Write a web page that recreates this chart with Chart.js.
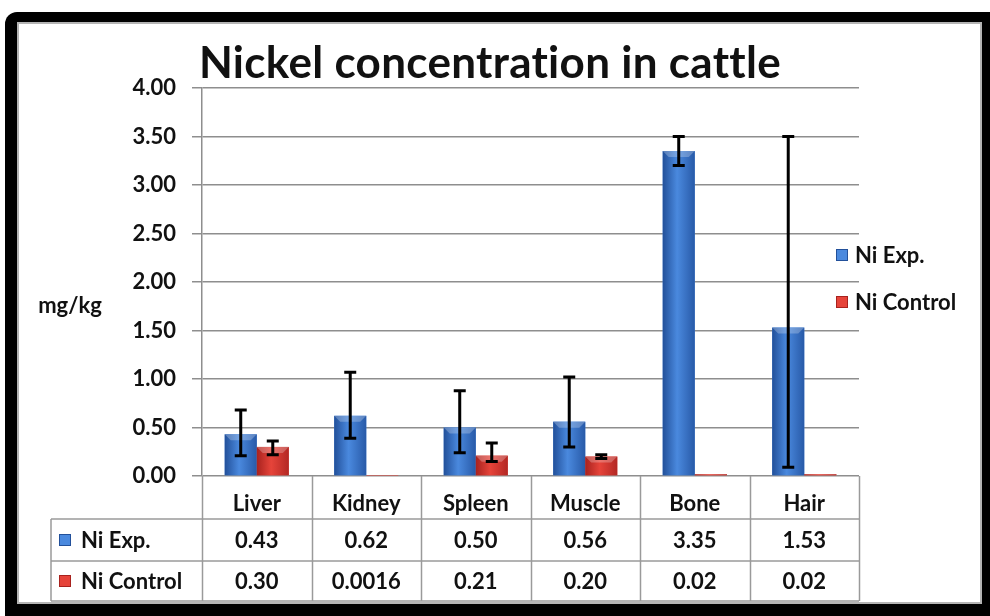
<!DOCTYPE html>
<html>
<head>
<meta charset="utf-8">
<script src="https://cdn.jsdelivr.net/npm/chart.js@4"></script>
<style>
    body { margin: 0; background: #fff; }
    .frame { position: absolute; left: 5px; top: 12px; width: 985px; height: 604px; background: #000; border-radius: 12px 0 0 0; }
    .inner { position: absolute; left: 17px; top: 22px; width: 961px; height: 578px; background: #fff; border: 2px solid #b4b4b4; }
    #wrap { position: absolute; left: 0; top: 0; width: 990px; height: 616px; }
</style>
</head>
<body>
<div class="frame"></div>
<div class="inner"></div>
<div id="wrap"><canvas id="nickel"></canvas></div>
<script>
// data
const categories = ['Liver', 'Kidney', 'Spleen', 'Muscle', 'Bone', 'Hair'];
const seriesNames = ['Ni Exp.', 'Ni Control'];
const niExp = [0.43, 0.62, 0.50, 0.56, 3.35, 1.53];
const niControl = [0.30, 0.0016, 0.21, 0.20, 0.02, 0.02];
const expErrUp = [0.25, 0.45, 0.38, 0.46, 0.15, 1.97];
const expErrDown = [0.22, 0.23, 0.26, 0.26, 0.15, 1.44];
const ctlErrUp = [0.06, 0, 0.13, 0.02, 0, 0];
const ctlErrDown = [0.08, 0, 0.06, 0.02, 0, 0];
const yMin = 0, yMax = 4, yStep = 0.5;

const FONT = 'Lato, "DejaVu Sans", sans-serif';
const gridColor = '#8e8e8e';
const tableColor = '#9a9a9a';
// gradient stops: edge, centre, edge
const shades = [
    ['#22509a', '#4a89de', '#285aa8'],
    ['#a8221e', '#e6443a', '#b32824']
];

function fmt(v) {
    return v < 0.01 ? String(v) : v.toFixed(2);
}

// bars with shading + error bars
const barLook = {
    id: 'barLook',
    afterDatasetsDraw(chart) {
        const c = chart.ctx;
        const y = chart.scales.y;
        const errs = [[expErrUp, expErrDown], [ctlErrUp, ctlErrDown]];
        chart.data.datasets.forEach((ds, di) => {
            const meta = chart.getDatasetMeta(di);
            meta.data.forEach((el, i) => {
                const l = el.x - el.width / 2, r = el.x + el.width / 2;
                const h = el.base - el.y;
                if (h < 0.5) {
                    return;
                }
                const g = c.createLinearGradient(l, 0, r, 0);
                g.addColorStop(0, shades[di][0]);
                g.addColorStop(0.45, shades[di][1]);
                g.addColorStop(1, shades[di][2]);
                c.save();
                c.fillStyle = g;
                c.fillRect(l, el.y, el.width, h);
                // small top bevel
                const b = Math.min(6, h / 2);
                c.fillStyle = 'rgba(255,255,255,0.25)';
                c.beginPath();
                c.moveTo(l, el.y);
                c.lineTo(r, el.y);
                c.lineTo(r - b, el.y + b);
                c.lineTo(l + b, el.y + b);
                c.closePath();
                c.fill();
                c.restore();
            });
        });
        // error bars
        chart.data.datasets.forEach((ds, di) => {
            const meta = chart.getDatasetMeta(di);
            meta.data.forEach((el, i) => {
                const up = errs[di][0][i], dn = errs[di][1][i];
                if (!up && !dn) {
                    return;
                }
                const v = ds.data[i];
                const yt = y.getPixelForValue(v + up);
                const yb = y.getPixelForValue(v - dn);
                c.save();
                c.strokeStyle = '#000';
                c.lineWidth = 3;
                c.beginPath();
                c.moveTo(el.x, yt);
                c.lineTo(el.x, yb);
                c.moveTo(el.x - 6, yt);
                c.lineTo(el.x + 6, yt);
                c.moveTo(el.x - 6, yb);
                c.lineTo(el.x + 6, yb);
                c.stroke();
                c.restore();
            });
        });
    }
};

// title, y label, legend and data table
const extras = {
    id: 'extras',
    afterDraw(chart) {
        const c = chart.ctx;
        const area = chart.chartArea;
        const x = chart.scales.x;
        c.save();
        c.fillStyle = '#111';
        // title (no ti ligature)
        c.textRendering = 'optimizeSpeed';
        c.letterSpacing = '0.3px';
        c.font = '700 44px ' + FONT;
        c.textAlign = 'center';
        c.textBaseline = 'alphabetic';
        c.fillText('Nickel concentration in cattle', 490, 78);
        c.letterSpacing = '0px';
        // y axis label
        c.font = '700 22px ' + FONT;
        c.textBaseline = 'middle';
        c.fillText('mg/kg', 70, 306);

        // legend
        c.textAlign = 'left';
        const legY = [255, 302];
        seriesNames.forEach((name, di) => {
            c.fillStyle = shades[di][1];
            c.fillRect(836, legY[di] - 6, 12, 12);
            c.strokeStyle = shades[di][0];
            c.lineWidth = 1;
            c.strokeRect(836.5, legY[di] - 5.5, 11, 11);
            c.fillStyle = '#111';
            c.fillText(name, 855, legY[di] + 1);
        });

        // table grid
        const catW = x.getPixelForValue(1) - x.getPixelForValue(0);
        const rowTop = area.bottom;
        const rows = [519, 561, 601];
        const left = 51;
        c.strokeStyle = tableColor;
        c.lineWidth = 1.5;
        c.beginPath();
        for (let i = 0; i <= categories.length; i++) {
            const bx = Math.round(area.left + i * catW) + 0.5;
            c.moveTo(bx, rowTop);
            c.lineTo(bx, rows[2]);
        }
        rows.forEach(ry => {
            c.moveTo(left, ry);
            c.lineTo(area.right, ry);
        });
        c.moveTo(left, rows[0]);
        c.lineTo(left, rows[2]);
        c.stroke();

        // row headers and values
        const rowMid = [540, 581];
        const vals = [niExp, niControl];
        seriesNames.forEach((name, di) => {
            c.fillStyle = shades[di][1];
            c.fillRect(59, rowMid[di] - 6, 12, 12);
            c.strokeStyle = shades[di][0];
            c.lineWidth = 1;
            c.strokeRect(59.5, rowMid[di] - 5.5, 11, 11);
            c.fillStyle = '#111';
            c.textAlign = 'left';
            c.font = '700 22px ' + FONT;
            c.fillText(name, 81, rowMid[di] + 1);
            c.textAlign = 'center';
            vals[di].forEach((v, i) => {
                c.fillText(fmt(v), x.getPixelForValue(i), rowMid[di] + 1);
            });
        });
        c.restore();
    }
};

const ctx = document.getElementById('nickel');
new Chart(ctx, {
    type: 'bar',
    data: {
        labels: categories,
        datasets: [
            {label: seriesNames[0], data: niExp, backgroundColor: shades[0][1], borderWidth: 0},
            {label: seriesNames[1], data: niControl, backgroundColor: shades[1][1], borderWidth: 0}
        ]
    },
    options: {
        responsive: true,
        maintainAspectRatio: false,
        animation: false,
        categoryPercentage: 0.585,
        barPercentage: 1,
        layout: {padding: {left: 0, right: 131, top: 88, bottom: 97}},
        scales: {
            x: {
                grid: {display: false},
                border: {display: false},
                ticks: {
                    color: '#111',
                    font: {family: FONT, size: 22, weight: '700'},
                    padding: 7,
                    maxRotation: 0
                },
                afterFit: (s) => { s.height = 43; }
            },
            y: {
                min: yMin,
                max: yMax,
                ticks: {
                    stepSize: yStep,
                    color: '#111',
                    padding: 16,
                    font: {family: FONT, size: 22, weight: '700'},
                    callback: (v) => v.toFixed(2)
                },
                grid: {color: gridColor, lineWidth: 1.5, tickLength: 10},
                border: {color: gridColor, width: 1.5},
                afterFit: (s) => { s.width = 202; }
            }
        },
        plugins: {
            legend: {display: false},
            tooltip: {enabled: false}
        }
    },
    plugins: [barLook, extras]
});
</script>
</body>
</html>
